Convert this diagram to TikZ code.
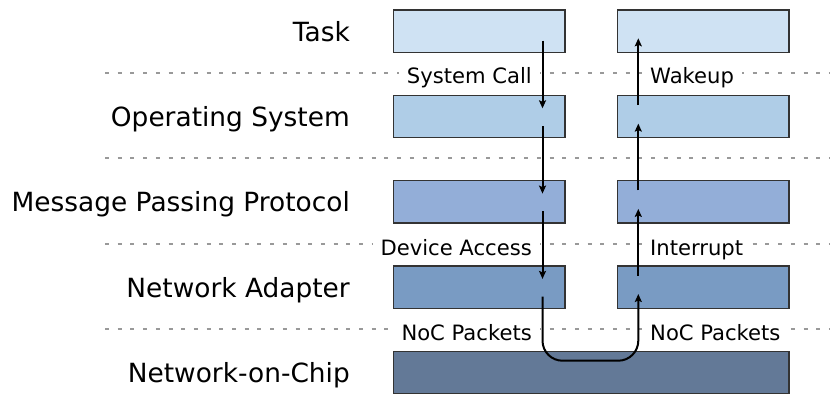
\documentclass[tikz,border=0pt]{standalone}
\usepackage{fontspec}
\setmainfont{DejaVu Sans}
\usetikzlibrary{arrows.meta,calc}

\definecolor{taskfill}{HTML}{CFE2F3}
\definecolor{osfill}{HTML}{AFCDE7}
\definecolor{mppfill}{HTML}{93AED8}
\definecolor{nafill}{HTML}{799BC3}
\definecolor{nocfill}{HTML}{637997}
\definecolor{boxline}{HTML}{333333}
\definecolor{sepline}{HTML}{999999}

\begin{document}
\begin{tikzpicture}[x=1bp,y=-1bp,
  layerbox/.style={draw=boxline, line width=1.3bp, minimum width=171.3bp,
    minimum height=42.4bp, inner sep=0pt, anchor=north west},
  layername/.style={anchor=base east, inner sep=0pt,
    font=\fontsize{26.5}{30}\selectfont},
  flowlabel/.style={fill=white, inner xsep=8bp, inner ysep=3bp,
    font=\fontsize{21.2}{25}\selectfont},
  sep/.style={draw=sepline, line width=2bp, dash pattern=on 4bp off 8.7bp},
  flow/.style={line width=2bp, -{Stealth[length=8bp,width=7bp,inset=1.5bp]}}
]
\useasboundingbox (0,0) rectangle (830,394);

% layer separators
\foreach \y in {73.1,158.4,243.7,329.0}
  \draw[sep] (105,\y) -- (830,\y);

% sending side (left column) and receiving side (right column)
\node[layerbox, fill=taskfill] (L1) at (393,9.3) {};
\node[layerbox, fill=osfill]   (L2) at (393,94.6) {};
\node[layerbox, fill=mppfill]  (L3) at (393,179.9) {};
\node[layerbox, fill=nafill]   (L4) at (393,265.2) {};
\node[layerbox, fill=taskfill] (R1) at (617,9.3) {};
\node[layerbox, fill=osfill]   (R2) at (617,94.6) {};
\node[layerbox, fill=mppfill]  (R3) at (617,179.9) {};
\node[layerbox, fill=nafill]   (R4) at (617,265.2) {};
\node[layerbox, fill=nocfill, minimum width=395.3bp] (noc) at (393,350.5) {};

% layer names
\node[layername] (n1) at (350,41.3)  {Task};
\node[layername] (n2) at (350,126.6) {Operating System};
\node[layername] (n3) at (350,211.9) {Message Passing Protocol};
\node[layername] (n4) at (350,297.2) {Network Adapter};
\node[layername] (n5) at (350,382.5) {Network-on-Chip};

% interface labels
\node[flowlabel, anchor=base east] (c1) at (540,83.5)  {System Call};
\node[flowlabel, anchor=base east] (c2) at (540,255.0) {Device Access};
\node[flowlabel, anchor=base east] (c3) at (540,340.0) {NoC Packets};
\node[flowlabel, anchor=base west] (w1) at (642,83.5)  {Wakeup};
\node[flowlabel, anchor=base west] (w2) at (642,255.0) {Interrupt};
\node[flowlabel, anchor=base west] (w3) at (642,340.0) {NoC Packets};

% downward path through the sender
\draw[flow] ($(L1.north west)+(149.5,31.4)$) -- ($(L2.north west)+(149.5,13.7)$);
\draw[flow] ($(L2.north west)+(149.5,31.4)$) -- ($(L3.north west)+(149.5,13.7)$);
\draw[flow] ($(L3.north west)+(149.5,31.4)$) -- ($(L4.north west)+(149.5,13.7)$);

% across the network-on-chip
\draw[flow, rounded corners=20bp]
  ($(L4.north west)+(149.5,31.4)$) |- ($(noc.north west)+(195.6,10.2)$)
  -| ($(R4.north west)+(21.3,28.8)$);

% upward path through the receiver
\draw[flow] ($(R4.north west)+(21.3,10.4)$) -- ($(R3.north west)+(21.3,29)$);
\draw[flow] ($(R3.north west)+(21.3,10.4)$) -- ($(R2.north west)+(21.3,29)$);
\draw[flow] ($(R2.north west)+(21.3,10.4)$) -- ($(R1.north west)+(21.3,29)$);
\end{tikzpicture}
\end{document}
